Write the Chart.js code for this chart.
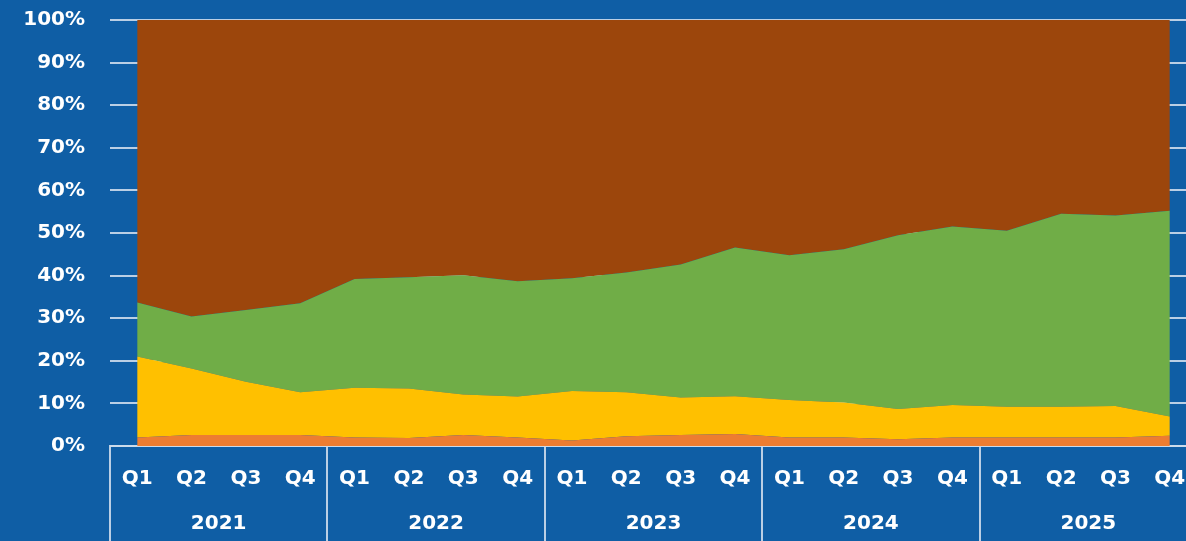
<!DOCTYPE html>
<html>
<head>
<meta charset="utf-8">
<script src="https://cdn.jsdelivr.net/npm/chart.js@4/dist/chart.umd.min.js"></script>
<style>
  html, body { margin: 0; padding: 0; background: #0f5ea5; overflow: hidden; }
  #wrap { width: 1186px; height: 541px; overflow: hidden; }
  canvas { display: block; }
</style>
</head>
<body>
<div id="wrap"><canvas id="myChart" width="1197" height="541"></canvas></div>
<script>
const years = ["2021", "2022", "2023", "2024", "2025"];
const quarters = ["Q1", "Q2", "Q3", "Q4"];

// shares in percent, bottom to top
const orangeShare = [2.0, 2.6, 2.6, 2.6, 2.0, 1.9, 2.6, 2.0, 1.3, 2.3, 2.6, 2.8, 2.0, 2.0, 1.6, 2.0, 2.0, 2.0, 2.0, 2.4];
const yellowShare = [19.0, 15.6, 12.5, 10.0, 11.7, 11.6, 9.5, 9.6, 11.6, 10.3, 8.8, 8.9, 8.8, 8.2, 7.1, 7.6, 7.2, 7.2, 7.4, 4.5];
const greenShare = [12.7, 12.2, 16.8, 20.9, 25.5, 26.1, 28.0, 27.1, 26.5, 28.1, 31.2, 34.9, 34.0, 36.0, 40.8, 41.9, 41.3, 45.3, 44.7, 48.3];
const brownShare = [66.3, 69.6, 68.1, 66.5, 60.8, 60.4, 59.9, 61.3, 60.6, 59.3, 57.4, 53.4, 55.2, 53.8, 50.5, 48.5, 49.5, 45.5, 45.9, 44.8];

const yTicks = [0, 10, 20, 30, 40, 50, 60, 70, 80, 90, 100];

const labels = [];
years.forEach(function (y) {
  quarters.forEach(function (q) {
    labels.push(q);
  });
});

const gridColor = "rgba(205, 220, 236, 0.9)";
const font = { family: "DejaVu Sans", size: 20, weight: "bold" };

function area(data, color, fill) {
  return {
    data: data,
    backgroundColor: color,
    borderWidth: 0,
    pointRadius: 0,
    tension: 0,
    fill: fill,
  };
}

const ctx = document.getElementById("myChart").getContext("2d");
const myChart = new Chart(ctx, {
  type: "line",
  data: {
    labels: labels,
    datasets: [
      area(orangeShare, "#ED7D31", "origin"),
      area(yellowShare, "#FFC000", "-1"),
      area(greenShare, "#70AD47", "-1"),
      area(brownShare, "#9C460C", "-1"),
    ],
  },
  options: {
    responsive: false,
    animation: false,
    layout: { padding: { top: 20, left: 0, right: 0, bottom: 0 } },
    plugins: {
      legend: { display: false },
      tooltip: { enabled: false },
    },
    scales: {
      y: {
        stacked: true,
        min: 0,
        max: 100,
        afterBuildTicks: function (s) {
          s.ticks = yTicks.map(function (v) { return { value: v }; });
        },
        afterFit: function (s) { s.width = 110; },
        grid: { color: gridColor, lineWidth: 2, drawTicks: true, tickLength: 25, tickColor: "rgba(0,0,0,0)" },
        border: { display: false },
        ticks: {
          color: "#ffffff",
          font: font,
          padding: 0,
          callback: function (v) { return v + "%"; },
        },
      },
      x: {
        type: "category",
        position: "bottom",
        weight: 0,
        offset: true,
        afterFit: function (s) { s.height = 54; },
        grid: {
          offset: true,
          drawOnChartArea: false,
          tickLength: 54,
          lineWidth: 2,
          color: function (c) {
            return c.index !== undefined && c.index % 4 === 0 ? gridColor : "rgba(0,0,0,0)";
          },
        },
        border: { display: true, color: gridColor, width: 2 },
        ticks: {
          color: "#ffffff",
          font: font,
          padding: -33,
          autoSkip: false,
          maxRotation: 0,
        },
      },
      x2: {
        type: "linear",
        position: "bottom",
        weight: 1,
        min: 0,
        max: labels.length,
        afterBuildTicks: function (s) {
          const t = [];
          for (let v = 0; v <= labels.length; v += 2) t.push({ value: v });
          s.ticks = t;
        },
        afterFit: function (s) { s.height = 41; },
        grid: {
          drawOnChartArea: false,
          tickLength: 41,
          lineWidth: 2,
          color: function (c) {
            return c.tick && c.tick.value % 4 === 0 ? gridColor : "rgba(0,0,0,0)";
          },
        },
        border: { display: false },
        ticks: {
          color: "#ffffff",
          font: font,
          padding: -29,
          autoSkip: false,
          maxRotation: 0,
          callback: function (v) {
            return v % 4 === 2 ? years[(v - 2) / 4] : "";
          },
        },
      },
    },
  },
});
</script>
</body>
</html>
